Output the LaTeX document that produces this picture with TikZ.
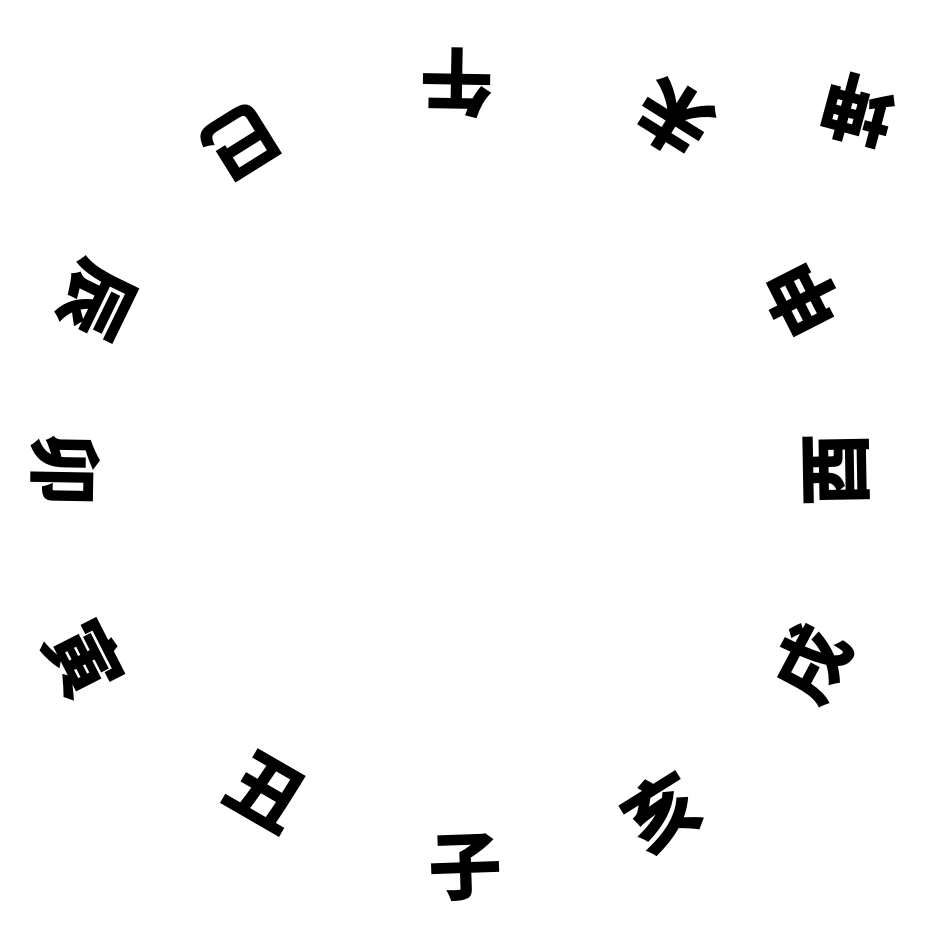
\documentclass[tikz,border=0pt]{standalone}
\usepackage{fontspec}
\newfontfamily\cjk{Noto Sans CJK SC}
\tikzset{branch/.style={font=\cjk\bfseries\fontsize{21}{21}\selectfont, inner sep=0pt, text=black}}
\begin{document}
\begin{tikzpicture}[x=0.01cm,y=-0.01cm]
\useasboundingbox[fill=white] (0,0) rectangle (927,927);
\node[branch, rotate=165]   (kun)  at (858,110) {坤};
\node[branch, rotate=148]   (wei)  at (674,119) {未};
\node[branch, rotate=179]   (wu)   at (457,83)  {午};
\node[branch, rotate=212]   (si)   at (241,142) {巳};
\node[branch, rotate=244]   (chen) at (96,300)  {辰};
\node[branch, rotate=269]   (mao)  at (65,470)  {卯};
\node[branch, rotate=297]   (yin)  at (85,660)  {寅};
\node[branch, rotate=330]   (chou) at (266,792) {丑};
\node[branch, rotate=2]     (zi)   at (465,868) {子};
\node[branch, rotate=32]    (hai)  at (662,812) {亥};
\node[branch, rotate=62]    (xu)   at (812,664) {戌};
\node[branch, rotate=91]    (you)  at (837,470) {酉};
\node[branch, rotate=117]   (shen) at (803,299) {申};
\end{tikzpicture}
\end{document}
